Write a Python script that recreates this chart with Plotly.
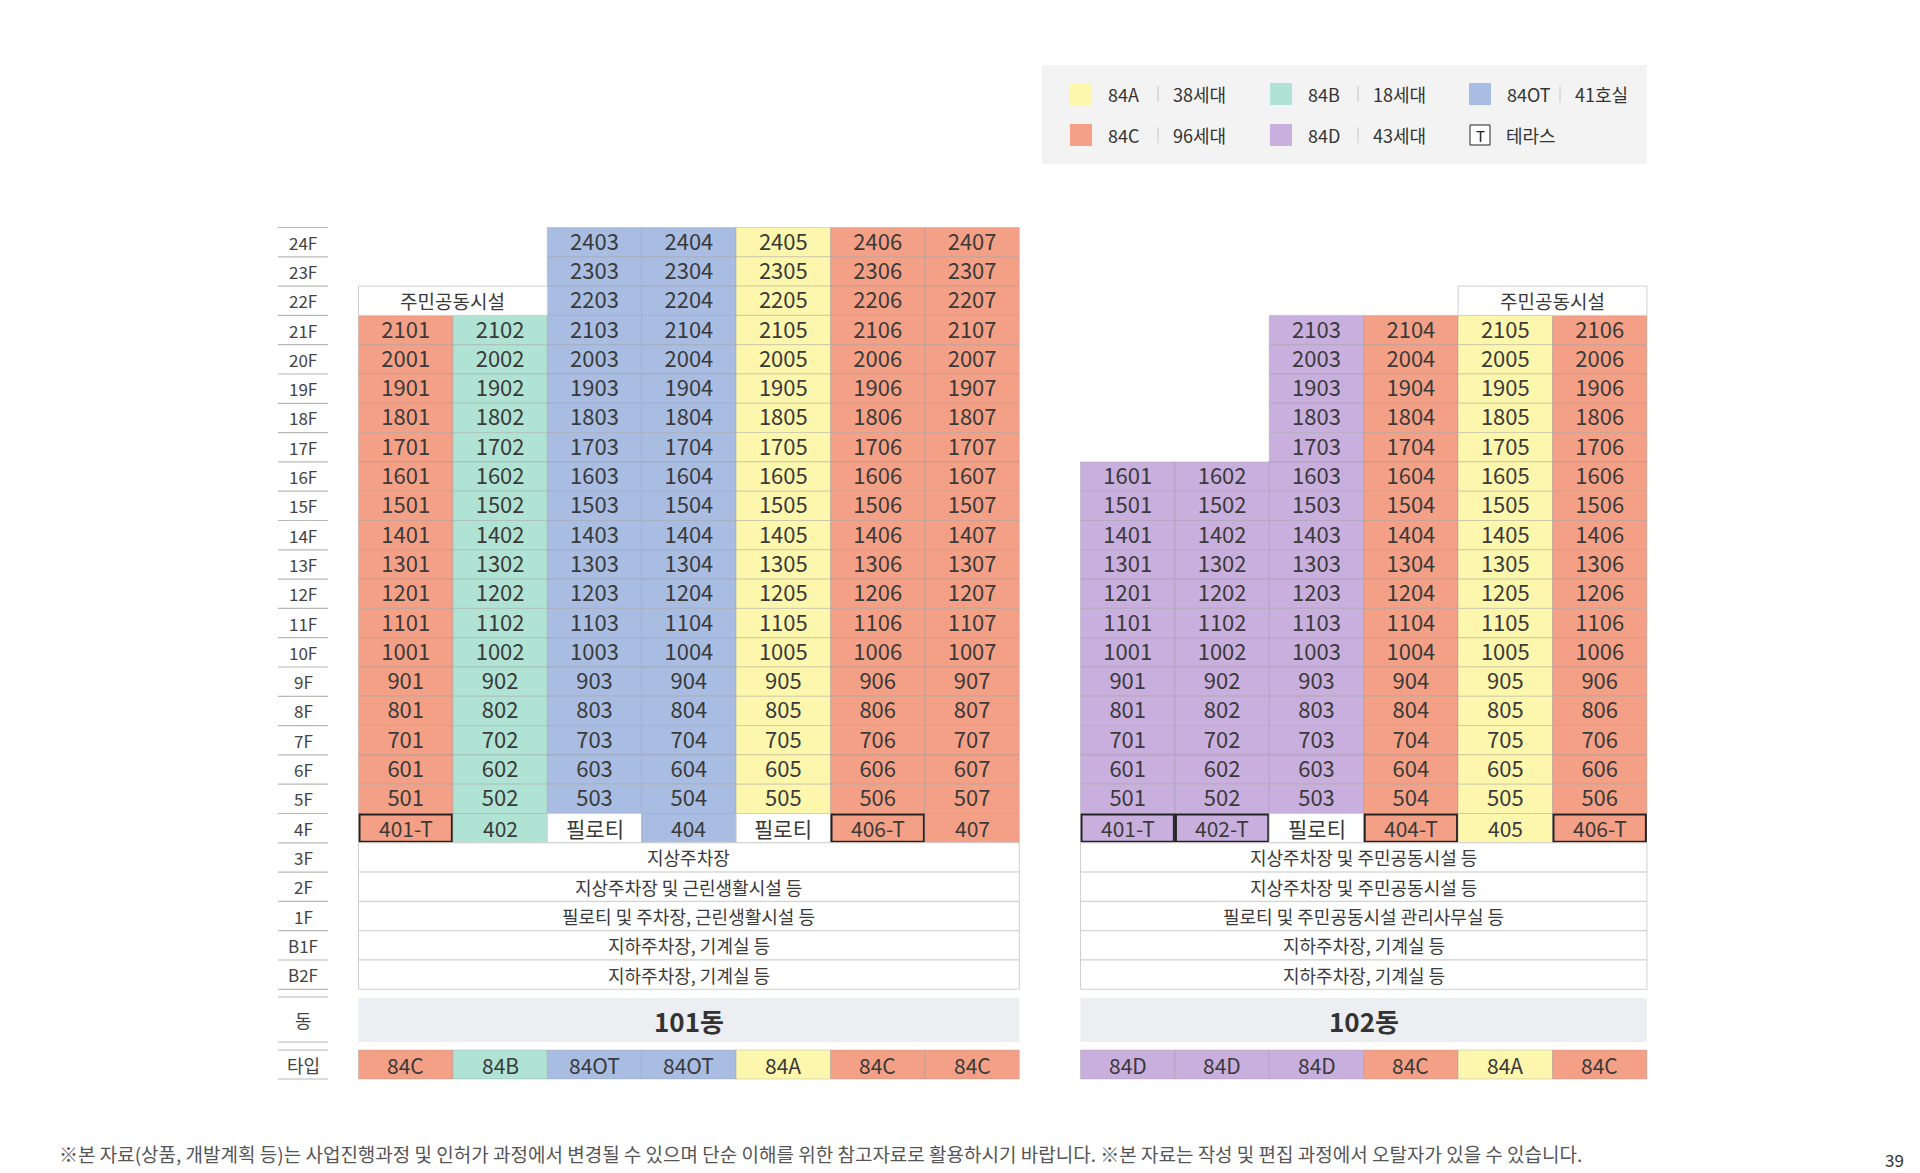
import plotly.graph_objects as go

# ---------------- data ----------------
floor_labels = ["24F", "23F", "22F", "21F", "20F", "19F", "18F", "17F", "16F", "15F", "14F",
                "13F", "12F", "11F", "10F", "9F", "8F", "7F", "6F", "5F", "4F",
                "3F", "2F", "1F", "B1F", "B2F"]
floor_numbers = [24, 23, 22, 21, 20, 19, 18, 17, 16, 15, 14, 13, 12, 11, 10, 9, 8, 7, 6, 5, 4]

b101_name = "101동"
b101_types = ["84C", "84B", "84OT", "84OT", "84A", "84C", "84C"]
b101_top_floor = [21, 21, 24, 24, 24, 24, 24]
b101_4f = ["401-T", "402", "필로티", "404", "필로티", "406-T", "407"]
b101_amenity = ("주민공동시설", 22, [0, 1])
b101_low = ["지상주차장", "지상주차장 및 근린생활시설 등", "필로티 및 주차장, 근린생활시설 등",
            "지하주차장, 기계실 등", "지하주차장, 기계실 등"]

b102_name = "102동"
b102_types = ["84D", "84D", "84D", "84C", "84A", "84C"]
b102_top_floor = [16, 16, 21, 21, 21, 21]
b102_4f = ["401-T", "402-T", "필로티", "404-T", "405", "406-T"]
b102_amenity = ("주민공동시설", 22, [4, 5])
b102_low = ["지상주차장 및 주민공동시설 등", "지상주차장 및 주민공동시설 등",
            "필로티 및 주민공동시설 관리사무실 등", "지하주차장, 기계실 등", "지하주차장, 기계실 등"]

legend_types = ["84A", "84B", "84OT", "84C", "84D"]
legend_counts = ["38세대", "18세대", "41호실", "96세대", "43세대"]
legend_terrace = ("T", "테라스")

footnote = ("※본 자료(상품, 개발계획 등)는 사업진행과정 및 인허가 과정에서 변경될 수 있으며 단순 이해를 위한 "
            "참고자료로 활용하시기 바랍니다. ※본 자료는 작성 및 편집 과정에서 오탈자가 있을 수 있습니다.")
page_number = "39"

type_colors = {"84A": "#fdf7ad", "84B": "#b0e3d4", "84OT": "#a9bde3",
               "84C": "#f4a086", "84D": "#c9afdd"}

# ---------------- layout constants (pixels) ----------------
W, H = 1920, 1173
COL_W = 94.4
ROW_H = 29.3
TOP = 227.5
B101_X = 358.5
B102_X = 1080.5
FONT = "Noto Sans CJK KR, Noto Sans, sans-serif"
TXT = "#3a3a3a"
GRID_WHITE = "#cfcfcf"


def row_top(label):
    return TOP + floor_labels.index(label) * ROW_H


shapes = []
annotations = []
unit_x, unit_y, unit_t = [], [], []


def rect(x0, y0, x1, y1, fill, line_color, line_width=1):
    shapes.append(dict(type="rect", xref="x", yref="y", x0=x0, x1=x1, y0=y0, y1=y1,
                       fillcolor=fill, line=dict(color=line_color, width=line_width), layer="below"))


def text(x, y, s, size=18, color=TXT, anchor="center", bold=False):
    annotations.append(dict(x=x, y=y, xref="x", yref="y", text=("<b>%s</b>" % s) if bold else s,
                            showarrow=False, xanchor=anchor, yanchor="middle",
                            font=dict(family=FONT, size=size, color=color)))


def building(x_left, types, tops, four, amenity, low, name):
    n = len(types)
    # residential units
    for c in range(n):
        x0 = x_left + c * COL_W
        for f in floor_numbers:
            if f < 5 or f > tops[c]:
                continue
            y0 = row_top("%dF" % f)
            rect(x0, y0, x0 + COL_W, y0 + ROW_H, type_colors[types[c]], "rgba(150,150,150,0.35)", 1)
            unit_x.append(x0 + COL_W / 2)
            unit_y.append(y0 + ROW_H / 2 + 2)
            unit_t.append("%d%02d" % (f, c + 1))
    # 4F row
    y0 = row_top("4F")
    for c in range(n):
        x0 = x_left + c * COL_W
        lab = four[c]
        if lab == "필로티":
            rect(x0, y0, x0 + COL_W, y0 + ROW_H, "white", GRID_WHITE, 1)
        else:
            fill = type_colors[types[c]]
            if lab.endswith("-T"):
                rect(x0 + 1, y0 + 1, x0 + COL_W - 1, y0 + ROW_H - 1, fill, "#222222", 2)
            else:
                rect(x0, y0, x0 + COL_W, y0 + ROW_H, fill, "rgba(150,150,150,0.35)", 1)
        text(x0 + COL_W / 2, y0 + ROW_H / 2, lab, size=21)
    # amenity on top
    a_label, a_floor, a_cols = amenity
    y0 = row_top("%dF" % a_floor)
    ax0 = x_left + a_cols[0] * COL_W
    ax1 = x_left + (a_cols[-1] + 1) * COL_W
    rect(ax0, y0, ax1, y0 + ROW_H, "white", GRID_WHITE, 1)
    text((ax0 + ax1) / 2, y0 + ROW_H / 2, a_label, size=19)
    # lower floors
    xr = x_left + n * COL_W
    for lab, fl in zip(low, ["3F", "2F", "1F", "B1F", "B2F"]):
        y0 = row_top(fl)
        rect(x_left, y0, xr, y0 + ROW_H, "white", GRID_WHITE, 1)
        text((x_left + xr) / 2, y0 + ROW_H / 2, lab, size=18)
    # building name band
    rect(x_left, 998, xr, 1042, "#eceef2", "rgba(0,0,0,0)", 0)
    text((x_left + xr) / 2, 1020, name, size=26, color="#333333", bold=True)
    # type row
    for c in range(n):
        x0 = x_left + c * COL_W
        rect(x0, 1050, x0 + COL_W, 1079, type_colors[types[c]], "rgba(150,150,150,0.35)", 1)
        text(x0 + COL_W / 2, 1065, types[c], size=21)


building(B101_X, b101_types, b101_top_floor, b101_4f, b101_amenity, b101_low, b101_name)
building(B102_X, b102_types, b102_top_floor, b102_4f, b102_amenity, b102_low, b102_name)

# floor labels column
LX0, LX1, LXC = 278, 328, 303
for i, lab in enumerate(floor_labels):
    text(LXC, TOP + (i + 0.5) * ROW_H, lab, size=17, color="#444444")
for i in range(len(floor_labels) + 1):
    y = TOP + i * ROW_H
    shapes.append(dict(type="line", xref="x", yref="y", x0=LX0, x1=LX1, y0=y, y1=y,
                       line=dict(color="#b8b8b8", width=1.2)))
for y in [997, 1042, 1050, 1079]:
    shapes.append(dict(type="line", xref="x", yref="y", x0=LX0, x1=LX1, y0=y, y1=y,
                       line=dict(color="#b8b8b8", width=1.2)))
text(LXC, 1020, "동", size=18, color="#444444")
text(LXC, 1065, "타입", size=18, color="#444444")

# legend box
rect(1042, 65, 1647, 164, "#f3f3f3", "rgba(0,0,0,0)", 0)
leg_cols = [1070, 1270, 1469]
leg_rows = [94, 135]
items = list(zip(legend_types, legend_counts))
positions = [(0, 0), (0, 1), (0, 2), (1, 0), (1, 1)]
for (t, cnt), (r, c) in zip(items, positions):
    sx, sy = leg_cols[c], leg_rows[r]
    shapes.append(dict(type="rect", xref="x", yref="y", x0=sx, x1=sx + 22, y0=sy - 11, y1=sy + 11,
                       fillcolor=type_colors[t], line=dict(width=0)))
    text(sx + 36, sy, t, size=18, color="#333333", anchor="left")
    sep_x = sx + 88 if c < 2 else sx + 91
    shapes.append(dict(type="line", xref="x", yref="y", x0=sep_x, x1=sep_x, y0=sy - 8, y1=sy + 8,
                       line=dict(color="#c8c8c8", width=1)))
    text(sep_x + 13, sy, cnt, size=18, color="#333333", anchor="left")
sx, sy = leg_cols[2], leg_rows[1]
shapes.append(dict(type="rect", xref="x", yref="y", x0=sx + 1, x1=sx + 21, y0=sy - 10, y1=sy + 10,
                   fillcolor="white", line=dict(color="#222222", width=1)))
text(sx + 11, sy, legend_terrace[0], size=15, color="#222222")
text(sx + 35, sy, legend_terrace[1], size=18, color="#333333", anchor="left")

# footnote and page number
text(57, 1153, footnote, size=19, color="#555555", anchor="left")
text(1894, 1159, page_number, size=17, color="#333333")

fig = go.Figure()
fig.add_trace(go.Scatter(x=unit_x, y=unit_y, mode="text", text=unit_t,
                         textfont=dict(family=FONT, size=22, color=TXT),
                         hoverinfo="skip", showlegend=False))
fig.update_layout(
    width=W, height=H, margin=dict(l=0, r=0, t=0, b=0),
    paper_bgcolor="white", plot_bgcolor="white",
    xaxis=dict(range=[0, W], visible=False, fixedrange=True),
    yaxis=dict(range=[H, 0], visible=False, fixedrange=True),
    shapes=shapes, annotations=annotations, showlegend=False,
)
fig.write_html("out.html", config={"displayModeBar": False},
               post_script="document.body.style.margin='0';document.body.style.overflow='hidden';")
